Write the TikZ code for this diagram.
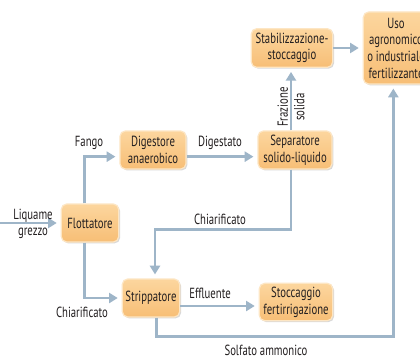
\documentclass[tikz,border=0pt]{standalone}
\usepackage{fontspec}
\setmainfont{PT Sans}[FakeStretch=0.73]
\usetikzlibrary{arrows.meta,shadows}
\definecolor{boxtop}{RGB}{252,214,158}
\definecolor{boxbot}{RGB}{247,190,118}
\definecolor{boxedge}{RGB}{253,230,196}
\definecolor{arrowc}{RGB}{158,181,200}
\definecolor{txt}{RGB}{35,31,32}
\begin{document}
\begin{tikzpicture}[x=0.75pt,y=-0.75pt,
  box/.style={draw=boxedge, line width=0.9pt, top color=boxtop, bottom color=boxbot, rounded corners=4pt,
    align=center, inner sep=1pt, font=\fontsize{11}{12.5}\selectfont, text=txt,
    drop shadow={opacity=0.3, shadow xshift=1pt, shadow yshift=-1pt}},
  arr/.style={draw=arrowc, line width=2.2pt, -{Triangle[length=6.5pt,width=7.5pt]}, shorten >=3pt},
  lbl/.style={align=center, font=\fontsize{11}{12.5}\selectfont, text=txt, inner sep=0pt}]
\useasboundingbox (0,0) rectangle (420,356);
\clip (0,0) rectangle (420,356);
\fill[white] (0,0) rectangle (420,356);
% nodes
\node[box, minimum width=61pt, minimum height=29pt] (stab) at (292,48) {Stabilizzazione-\\stoccaggio};
\node[box, minimum width=49pt, minimum height=54pt] (uso) at (396,48) {Uso\\agronomico\\o industriale\\fertilizzante};
\node[box, minimum width=49.5pt, minimum height=28.5pt] (dig) at (153,150) {Digestore\\anaerobico};
\node[box, minimum width=55.5pt, minimum height=28.5pt] (sep) at (295,150) {Separatore\\solido-liquido};
\node[box, minimum width=43pt, minimum height=28.5pt] (flot) at (90,223) {Flottatore};
\node[box, minimum width=43pt, minimum height=28.5pt] (strip) at (151,298) {Strippatore};
\node[box, minimum width=55pt, minimum height=28pt] (stoc) at (296,302) {Stoccaggio\\fertirrigazione};
\coordinate (lin) at (0,223);
% connectors
\draw[arr] (stab.east) -- (uso.west);
\draw[arr] ([xshift=-3pt]sep.north) -- ([xshift=-3pt]sep.north |- stab.south);
\draw[arr] ([yshift=-5pt]dig.east) -- ([yshift=-5pt]dig.east -| sep.west);
\draw[arr] ([xshift=-4pt]flot.north) |- ([yshift=-5pt]dig.west);
\draw[arr] (lin) -- (flot.west);
\draw[arr] ([xshift=-4pt]flot.south) |- (strip.west);
\draw[arr] ([xshift=-3pt]sep.south) -- ++(0,60) -| ([xshift=3pt]strip.north);
\draw[arr] ([yshift=-6pt]strip.east) -- ([yshift=-6pt]strip.east -| stoc.west);
\draw[arr] ([xshift=4pt]strip.south) -- ++(0,19) -| ([xshift=-2pt]uso.south);
% labels
\node[lbl] (lfango) at (89,143) {Fango};
\node[lbl] (ldig) at (220,143) {Digestato};
\node[lbl, rotate=90] (lfraz) at (291,107) {Frazione\\solida};
\node[lbl] (lchi1) at (220,219) {Chiarificato};
\node[lbl] (lliq) at (33,224) {Liquame\\grezzo};
\node[lbl] (lchi2) at (82,312) {Chiarificato};
\node[lbl] (leff) at (210,293) {Effluente};
\node[lbl] (lsolf) at (266,350) {Solfato ammonico};
\end{tikzpicture}
\end{document}
